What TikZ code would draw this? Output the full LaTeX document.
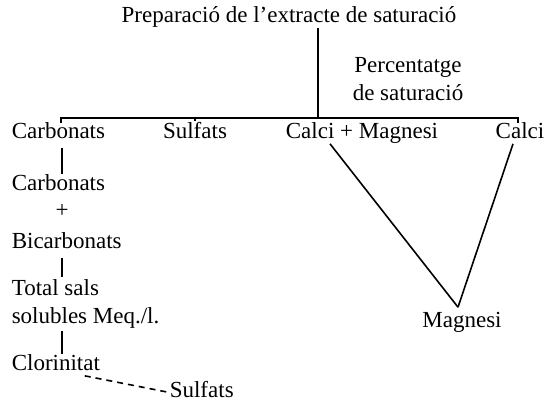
\documentclass[tikz,border=0pt]{standalone}
\usepackage{fontspec}
\setmainfont{Liberation Serif}
\begin{document}
\begin{tikzpicture}[x=0.5pt,y=-0.5pt,line width=0.8pt,
  lbl/.style={inner sep=1pt,font=\fontsize{11.5}{14}\selectfont},
  one/.style={lbl,text height=1.5ex,text depth=.25ex},
  lft/.style={one,anchor=west},
  two/.style={lbl,align=left,anchor=west}]
  \useasboundingbox (0,0) rectangle (544,402);
  %% header
  \node[one] (title) at (289,17) {Preparació de l'extracte de saturació};
  \node[lbl,align=center] (perc) at (408,79) {Percentatge\\de saturació};
  %% first row
  \node[lft] (carb) at (9,133) {Carbonats};
  \node[one] (sulf) at (195,133) {Sulfats};
  \node[one] (calmg) at (362,133) {Calci + Magnesi};
  \node[one] (calci) at (520,133) {Calci};
  %% left column
  \node[lft] (carbb) at (9,185) {Carbonats};
  \node[one] (plus) at (62,212) {+};
  \node[lft] (bicarb) at (9,243) {Bicarbonats};
  \node[two] (total) at (9,304) {Total sals\\solubles Meq./l.};
  \node[lft] (clor) at (9,365) {Clorinitat};
  \node[lft] (sulfb) at (167,392) {Sulfats};
  %% right side
  \node[one] (mag) at (462,322) {Magnesi};
  %% bar
  \coordinate (join) at (318,118);
  \coordinate (barL) at (61,118);
  \coordinate (barR) at (518,118);
  %%% edges
  \draw (title.south -| join) -- (join);
  \draw (barL) ++(0,5) -- (barL) -- (barR) -- ++(0,5);
  \draw (sulf.north |- barL) -- ++(0,3);
  \draw[shorten <=2pt] (carb.south -| plus) -- (carbb.north -| plus);
  \draw[shorten <=2pt] (bicarb.south -| plus) -- (total.north -| plus);
  \draw (total.south -| plus) -- (clor.north -| plus);
  \draw ([xshift=-16pt]calmg.south) -- ([xshift=-2pt,yshift=2pt]mag.north);
  \draw ([xshift=-3.5pt]calci.south) -- ([xshift=-2pt,yshift=2pt]mag.north);
  \draw[dashed,dash pattern=on 3pt off 2.5pt] ([xshift=-9pt]clor.south east) -- (sulfb.west);
\end{tikzpicture}
\end{document}
